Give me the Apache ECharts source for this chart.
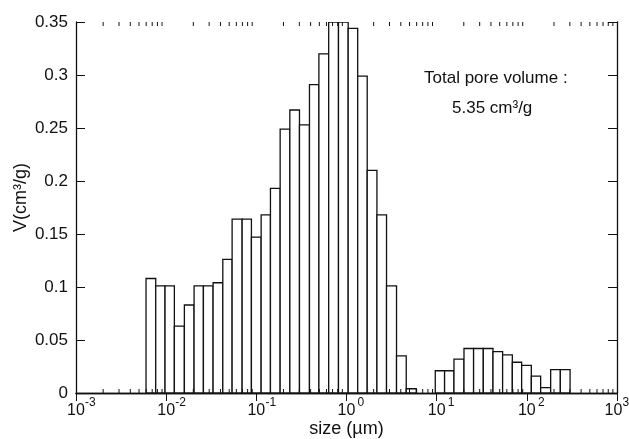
<!DOCTYPE html>
<html>
<head>
<meta charset="utf-8">
<title>pore size distribution</title>
<script src="https://cdn.jsdelivr.net/npm/echarts@6/dist/echarts.min.js"></script>
<style>
    html, body { margin: 0; padding: 0; background: #fff; }
    #chart { width: 629px; height: 439px; }
</style>
</head>
<body>
<div id="chart"></div>
<script>
    // bin edges (µm)
    var binEdges = [
        0.00598, 0.00766, 0.00972, 0.01233, 0.01592, 0.0204, 0.02588, 0.03315, 0.04248, 0.05388,
        0.0696, 0.0882, 0.1131, 0.1434, 0.1837, 0.2353, 0.301, 0.3884, 0.4941, 0.6345,
        0.815, 1.044, 1.331, 1.697, 2.175, 2.779, 3.588, 4.598, 5.936, 7.606,
        9.65, 12.24, 15.56, 20.09, 25.67, 32.9, 42.16, 53.88, 69.05, 87.58,
        112.2, 142.3, 183.8, 235.3, 301.7
    ];
    // pore volume in each bin (cm3/g)
    var volumes = [
        0.108, 0.101, 0.101, 0.063, 0.083, 0.101, 0.101, 0.104, 0.126, 0.164,
        0.164, 0.147, 0.168, 0.193, 0.249, 0.267, 0.253, 0.291, 0.320, 0.350,
        0.350, 0.344, 0.299, 0.210, 0.168, 0.101, 0.035, 0.004, 0, 0,
        0.021, 0.021, 0.032, 0.042, 0.042, 0.042, 0.039, 0.036, 0.029, 0.026,
        0.016, 0.005, 0.022, 0.022
    ];
    // axis ticks
    var decades = [-3, -2, -1, 0, 1, 2, 3];
    var minorSteps = [2, 3, 4, 5, 6, 7, 8, 9];
    var yMax = 0.35;

    var ink = '#111';
    var fontFamily = '"Liberation Sans", Arial, sans-serif';

    var bars = [];
    for (var i = 0; i < volumes.length; i++) {
        bars.push([binEdges[i], binEdges[i + 1], volumes[i]]);
    }

    var minorTicks = [];
    for (var d = 0; d < decades.length - 1; d++) {
        for (var k = 0; k < minorSteps.length; k++) {
            minorTicks.push([minorSteps[k] * Math.pow(10, decades[d]), 0]);
        }
    }

    function expLabel(v) {
        var e = Math.round(Math.log10(v));
        // last label sits at the right edge, keep it tight
        if (e === decades[decades.length - 1]) return '{b|10}{t|' + e + '}';
        return '{p|}{b|10}{s|' + e + '}';
    }

    var chart = echarts.init(document.getElementById('chart'));

    var xCommon = {
        type: 'log',
        logBase: 10,
        min: 0.001,
        max: 1000,
        splitLine: { show: false },
        axisLine: { show: true, lineStyle: { color: ink, width: 1.3 } },
        axisTick: { show: true, inside: true, length: 8, lineStyle: { color: ink, width: 1 } }
    };
    var yCommon = {
        type: 'value',
        min: 0,
        max: yMax,
        interval: 0.05,
        splitLine: { show: false },
        axisLine: { show: true, lineStyle: { color: ink, width: 1.3 } },
        axisTick: { show: true, inside: true, length: 9, lineStyle: { color: ink, width: 1 } }
    };

    var supStyle = { fontSize: 12, color: ink, fontFamily: fontFamily, verticalAlign: 'top', lineHeight: 12 };

    var option = {
        animation: false,
        backgroundColor: '#fff',
        grid: { left: 76, right: 12, top: 22, bottom: 46, containLabel: false, outerBoundsMode: 'none' },
        xAxis: [
            echarts.util.merge({
                position: 'bottom',
                name: 'size (µm)',
                nameLocation: 'middle',
                nameGap: 27,
                nameMoveOverlap: false,
                nameTextStyle: { fontSize: 18, color: ink, fontFamily: fontFamily },
                axisLabel: {
                    margin: 4,
                    formatter: expLabel,
                    rich: {
                        p: { width: 11 },
                        b: { fontSize: 16, color: ink, fontFamily: fontFamily, verticalAlign: 'bottom', lineHeight: 22 },
                        s: echarts.util.extend({ width: 11 }, supStyle),
                        t: echarts.util.extend({ width: 7 }, supStyle)
                    }
                }
            }, xCommon, true),
            echarts.util.merge({
                position: 'top',
                axisLabel: { show: false }
            }, xCommon, true)
        ],
        yAxis: [
            echarts.util.merge({
                position: 'left',
                name: 'V(cm³/g)',
                nameLocation: 'middle',
                nameRotate: 90,
                nameGap: 46,
                nameMoveOverlap: false,
                nameTextStyle: { fontSize: 18, color: ink, fontFamily: fontFamily, padding: [0, 0, 0, 20] },
                axisLabel: { margin: 8, fontSize: 17, color: ink, fontFamily: fontFamily }
            }, yCommon, true),
            echarts.util.merge({
                position: 'right',
                axisLabel: { show: false }
            }, yCommon, true)
        ],
        graphic: [
            {
                type: 'text', left: 424, top: 70,
                style: { text: 'Total pore volume :', fontSize: 17, fill: ink, fontFamily: fontFamily }
            },
            {
                type: 'text', left: 452, top: 100,
                style: { text: '5.35 cm³/g', fontSize: 17, fill: ink, fontFamily: fontFamily }
            }
        ],
        series: [
            {
                type: 'custom',
                name: 'pore volume',
                silent: true,
                clip: true,
                encode: { x: [0, 1], y: 2 },
                data: bars,
                renderItem: function (params, api) {
                    var v = api.value(2);
                    if (!v) return;
                    var p0 = api.coord([api.value(0), v]);
                    var p1 = api.coord([api.value(1), 0]);
                    return {
                        type: 'rect',
                        shape: { x: p0[0], y: p0[1], width: p1[0] - p0[0], height: p1[1] - p0[1] },
                        style: { fill: '#fff', stroke: ink, lineWidth: 1.3 }
                    };
                }
            },
            {
                // minor log ticks on bottom and top axes
                type: 'custom',
                silent: true,
                encode: { x: 0, y: 1 },
                data: minorTicks,
                z: 5,
                renderItem: function (params, api) {
                    var b = api.coord([api.value(0), 0]);
                    var t = api.coord([api.value(0), yMax]);
                    return {
                        type: 'group',
                        children: [
                            { type: 'line', shape: { x1: b[0], y1: b[1], x2: b[0], y2: b[1] - 4 }, style: { stroke: ink, lineWidth: 1 } },
                            { type: 'line', shape: { x1: t[0], y1: t[1], x2: t[0], y2: t[1] + 4 }, style: { stroke: ink, lineWidth: 1 } }
                        ]
                    };
                }
            }
        ]
    };

    chart.setOption(option);
</script>
</body>
</html>
